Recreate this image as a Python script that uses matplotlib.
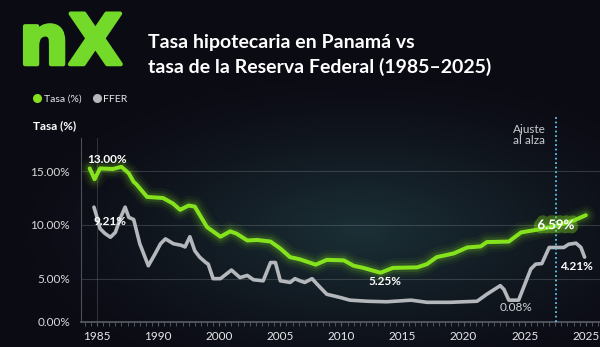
import numpy as np
import matplotlib
matplotlib.use('Agg')
import matplotlib.pyplot as plt
from matplotlib.lines import Line2D
import matplotlib.patheffects as pe

# data (in the chart's drawn units)
tasa_years = [1984.4, 1984.8, 1985.25, 1986.3, 1987.0, 1987.6, 1988.0, 1988.2, 1989.1, 1990.4,
              1991.2, 1991.8, 1992.5, 1993.0, 1994.0, 1995.1, 1995.9, 1996.4, 1997.3, 1998.1,
              1999.2, 2000.0, 2000.8, 2001.6, 2002.9, 2003.8, 2005.2, 2006.0, 2006.8, 2008.2,
              2009.2, 2011.2, 2012.0, 2012.8, 2014.2, 2015.3, 2016.4, 2016.9, 2018.7, 2019.7,
              2021.0, 2022.4, 2024.0, 2025.0]
tasa_vals = [15.25, 14.25, 15.25, 15.2, 15.4, 14.8, 14.0, 13.8, 12.6, 12.5,
             12.0, 11.4, 11.8, 11.7, 9.8, 8.9, 9.4, 9.2, 8.55, 8.6,
             8.45, 7.8, 7.0, 6.8, 6.3, 6.75, 6.7, 6.2, 6.0, 5.55,
             6.0, 6.05, 6.35, 7.0, 7.35, 7.9, 8.0, 8.4, 8.45, 9.3,
             9.55, 9.85, 10.4, 10.9]

ffer_years = [1984.75, 1985.0, 1985.25, 1985.65, 1986.1, 1986.5, 1986.9, 1987.3, 1987.6, 1988.0,
              1988.5, 1989.2, 1989.75, 1990.2, 1990.6, 1991.25, 1991.9, 1992.2, 1992.6, 1993.0,
              1993.4, 1993.9, 1994.1, 1994.5, 1995.1, 1996.0, 1996.7, 1997.3, 1997.8, 1998.6,
              1999.2, 1999.6, 2000.0, 2000.8, 2001.2, 2001.6, 2002.0, 2002.6, 2003.0, 2003.8,
              2004.9, 2005.7, 2007.1, 2008.7, 2010.7, 2012.0, 2013.9, 2016.1, 2016.9, 2018.0,
              2018.3, 2018.7, 2019.5, 2020.5, 2020.9, 2021.4, 2022.0, 2023.2, 2023.6, 2024.2,
              2024.6, 2024.9]
ffer_vals = [11.65, 10.7, 9.65, 9.2, 8.85, 9.3, 10.6, 11.65, 10.7, 10.5,
             8.25, 6.2, 7.3, 8.25, 8.7, 8.25, 8.1, 7.95, 8.9, 7.6,
             7.0, 6.5, 6.35, 5.0, 5.0, 5.8, 5.1, 5.3, 4.9, 4.8,
             6.5, 6.5, 4.8, 4.65, 5.0, 4.8, 4.65, 5.0, 4.5, 3.55,
             3.25, 3.0, 2.9, 2.85, 3.0, 2.8, 2.8, 2.9, 3.55, 4.35,
             4.0, 3.0, 3.0, 5.9, 6.35, 6.4, 7.9, 7.9, 8.2, 8.3,
             7.9, 7.0]

xtick_pos = [1985, 1990, 1995, 2000, 2005, 2010, 2015, 2020, 2025]
xtick_labels = ['1985', '1990', '2000', '2005', '2010', '2015', '2020', '2025', '2025']
ytick_pos = [1, 5, 10, 15]
ytick_labels = ['0.00%', '5.00%', '10.00%', '15.00%']

# (text, x, y, style)
notes = [('13.00%', 1985.8, 16.1, 'bold'),
         ('9.21%', 1986.05, 10.35, 'bold'),
         ('5.25%', 2008.55, 4.78, 'bold'),
         ('6.59%', 2022.55, 9.98, 'big'),
         ('0.08%', 2019.3, 2.36, 'light'),
         ('4.21%', 2024.2, 6.17, 'bold')]
ajuste_year = 2022.55

green = '#84e31d'
grey = '#b4b8bc'
bg = '#0c0c15'

fig = plt.figure(figsize=(6, 3.47), dpi=100, facecolor=bg)

# background glow
bgax = fig.add_axes([0, 0, 1, 1], zorder=-10)
yy, xx = np.mgrid[0:347, 0:600]
d = np.sqrt(((xx - 360) / 330.0) ** 2 + ((yy - 230) / 150.0) ** 2)
w = np.clip(1 - d, 0, 1) ** 1.3
base = np.array([12, 12, 21]) / 255.0
glow = np.array([27, 48, 54]) / 255.0
img = base[None, None, :] * (1 - w[..., None]) + glow[None, None, :] * w[..., None]
bgax.imshow(img, aspect='auto', extent=[0, 1, 0, 1], origin='upper')
bgax.axis('off')

ax = fig.add_axes([0.135, 0.073, 0.865, 0.529])
ax.set_facecolor('none')

# glow under the green line
for lw, a in [(14, 0.05), (10, 0.08), (6.5, 0.14)]:
    ax.plot(tasa_years, tasa_vals, color=green, lw=lw, alpha=a, solid_capstyle='round',
            solid_joinstyle='round', zorder=3)
ax.plot(tasa_years, tasa_vals, color=green, lw=2.9, solid_capstyle='round', solid_joinstyle='round', zorder=4)
ax.plot(ffer_years, ffer_vals, color=grey, lw=2.6, solid_capstyle='round', solid_joinstyle='round', zorder=4)

ax.set_xlim(1983.69, 2026.16)
ax.set_ylim(1.0, 18.07)
ax.set_xticks(xtick_pos)
ax.set_xticklabels(xtick_labels)
ax.set_xticks(np.arange(1984, 2026.5, 0.5), minor=True)
ax.set_yticks(ytick_pos)
ax.set_yticklabels(ytick_labels)
ax.tick_params(axis='x', colors='#5a5e66', labelcolor='#e6e8ea', labelsize=8.5, length=3, width=0.8, pad=4)
ax.tick_params(axis='x', which='minor', colors='#5a5e66', length=3, width=0.6)
ax.tick_params(axis='y', length=0, labelcolor='#d8dadc', labelsize=8.5, pad=8)

for yv in [5, 10, 15]:
    ax.axhline(yv, color='#8a9098', lw=0.8, alpha=0.3, zorder=1)
ax.axvline(1985, color='#8a9098', lw=0.7, alpha=0.3, zorder=1)

for s in ['top', 'right']:
    ax.spines[s].set_visible(False)
ax.spines['left'].set_color('#4a4e56')
ax.spines['bottom'].set_color('#5a5e66')
ax.spines['bottom'].set_linewidth(1.2)

# ajuste line
ax.axvline(ajuste_year, ymin=0, ymax=1.115, clip_on=False, color='#5cc6ee', lw=1.3,
           linestyle=(0, (1, 1.5)), zorder=5)
ax.text(2020.35, 18.35, 'Ajuste\nal alza', ha='center', va='center', color='#c8ccd0',
        fontsize=8.5, family='Lato', linespacing=1.05, clip_on=False)

for txt, x, y, style in notes:
    if style == 'big':
        ax.text(x, y, txt, ha='center', va='center', color='white', fontsize=9.5, family='Lato',
                fontweight='bold', zorder=7,
                path_effects=[pe.withStroke(linewidth=6, foreground=green, alpha=0.35)])
    elif style == 'light':
        ax.text(x, y, txt, ha='center', va='center', color='#d0d4d8', fontsize=8.5, family='Lato', zorder=7)
    else:
        ax.text(x, y, txt, ha='center', va='center', color='white', fontsize=8.5, family='Lato',
                fontweight='bold', zorder=7)

for lab in ax.get_xticklabels() + ax.get_yticklabels():
    lab.set_family('Lato')

fig.text(0.055, 0.637, 'Tasa (%)', ha='left', va='center', color='white',
         fontsize=8.5, fontweight='bold', family='Lato')

# title and logo
fig.text(0.032, 0.815, 'nX', color='#74da2a', fontsize=50, fontweight='heavy', family='DejaVu Sans',
         va='baseline', ha='left',
         path_effects=[pe.withStroke(linewidth=3, foreground='#74da2a')])
fig.text(0.247, 0.862, 'Tasa hipotecaria en Panamá vs', color='white', fontsize=14,
         fontweight='bold', family='Lato', va='baseline')
fig.text(0.247, 0.79, 'tasa de la Reserva Federal (1985–2025)', color='white', fontsize=14,
         fontweight='bold', family='Lato', va='baseline')

handles = [Line2D([], [], marker='o', color='none', markerfacecolor=green, markeredgecolor='none', markersize=6.5),
           Line2D([], [], marker='o', color='none', markerfacecolor=grey, markeredgecolor='none', markersize=6.5)]
leg = fig.legend(handles, ['Tasa (%)', 'FFER'], loc='center left', bbox_to_anchor=(0.05, 0.715), ncol=2,
                 frameon=False, handlelength=0.6, handletextpad=0.3, columnspacing=1.2,
                 borderaxespad=0, prop={'family': 'Lato', 'size': 7.5})
for t in leg.get_texts():
    t.set_color('#e6e8ea')

fig.savefig('out.png', dpi=100, facecolor=bg)
